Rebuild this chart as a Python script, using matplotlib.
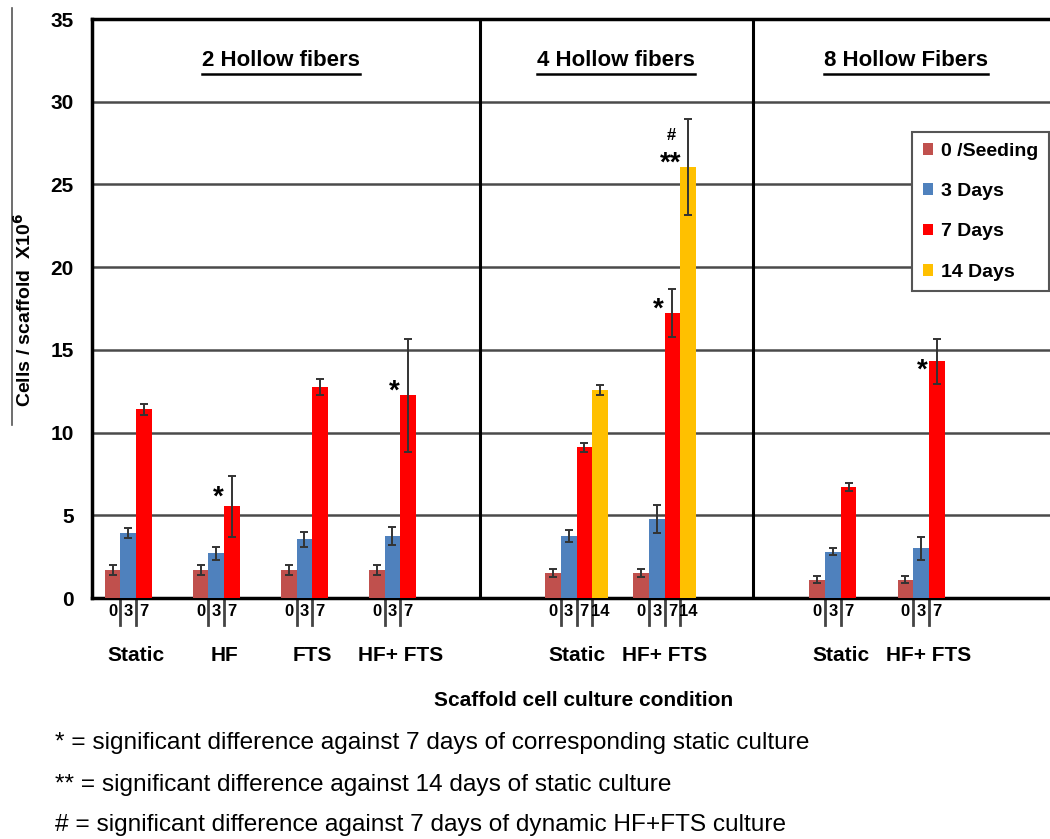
import matplotlib
matplotlib.use("Agg")
import matplotlib.pyplot as plt
from matplotlib import font_manager
from matplotlib.lines import Line2D
from matplotlib.patches import Patch
import numpy as np

# ---- data ----
groups = ["Static", "HF", "FTS", "HF+ FTS", None, "Static", "HF+ FTS", None, "Static", "HF+ FTS"]
panels = ["2 Hollow fibers", "4 Hollow fibers", "8 Hollow Fibers"]
series = ["0 /Seeding", "3 Days", "7 Days", "14 Days"]
day_labels = ["0", "3", "7", "14"]

nan = np.nan
seeding = [1.7, 1.7, 1.7, 1.7, nan, 1.5, 1.5, nan, 1.1, 1.1]
seeding_err = [0.3, 0.3, 0.3, 0.3, nan, 0.25, 0.25, nan, 0.2, 0.2]
day3 = [3.95, 2.7, 3.55, 3.75, nan, 3.75, 4.75, nan, 2.8, 3.0]
day3_err = [0.3, 0.4, 0.45, 0.55, nan, 0.35, 0.85, nan, 0.2, 0.7]
day7 = [11.4, 5.55, 12.75, 12.25, nan, 9.1, 17.25, nan, 6.7, 14.3]
day7_err = [0.35, 1.85, 0.5, 3.4, nan, 0.25, 1.45, nan, 0.25, 1.35]
day14 = [nan, nan, nan, nan, nan, 12.6, 26.05, nan, nan, nan]
day14_err = [nan, nan, nan, nan, nan, 0.3, 2.9, nan, nan, nan]

# significance marks: (group index, label, y of mark centre)
marks = [(1, "*", 6.6), (3, "*", 13.0), (6, "*", 18.0), (9, "*", 14.27),
         (6, "**", 26.8), (6, "#", 28.05)]

footnotes = [
    "* = significant difference against 7 days of corresponding static culture",
    "** = significant difference against 14 days of static culture",
    "# = significant difference against 7 days of dynamic HF+FTS culture",
]

COLORS = ["#c0504d", "#4f81bd", "#ff0000", "#ffc000"]

installed = {f.name for f in font_manager.fontManager.ttflist}
MAIN = ["Liberation Sans", "DejaVu Sans"]
NARROW = ["Liberation Sans Narrow"] if "Liberation Sans Narrow" in installed else []
NARROW = NARROW + MAIN
plt.rcParams["font.family"] = MAIN

W, H = 1050, 839
fig = plt.figure(figsize=(W / 100, H / 100), dpi=100)
ax = fig.add_axes([92 / W, 1 - 598 / H, (1061 - 92) / W, (598 - 19) / H])

values = [seeding, day3, day7, day14]
errors = [seeding_err, day3_err, day7_err, day14_err]
n_slots = len(groups) + 1
bw = 0.178
x = np.arange(len(groups))

for i, (vals, errs) in enumerate(zip(values, errors)):
    vals = np.array(vals, dtype=float)
    errs = np.array(errs, dtype=float)
    ok = ~np.isnan(vals)
    xs = x[ok] - 2 * bw + (i + 0.5) * bw
    ax.bar(xs, vals[ok], width=bw, color=COLORS[i], zorder=3, linewidth=0)
    ax.errorbar(xs, vals[ok], yerr=errs[ok], fmt="none", ecolor="#333333",
                elinewidth=1.4, capsize=3, capthick=1.4, zorder=4)

ax.set_xlim(-0.5, n_slots - 0.5)
ax.set_ylim(0, 35)
ax.set_yticks(np.arange(0, 36, 5))
ax.set_xticks([])
ax.tick_params(axis="y", length=0, pad=13, labelsize=15)
for lab in ax.get_yticklabels():
    lab.set_fontweight("bold")
ax.yaxis.grid(True, color="#4a4a4a", linewidth=1.8, zorder=1)
ax.set_axisbelow(True)
for side in ["left", "top", "bottom"]:
    ax.spines[side].set_linewidth(2.5)
    ax.spines[side].set_color("black")
ax.spines["right"].set_visible(False)

# panel dividers
for xd in [3.9, 7.0]:
    ax.axvline(xd, color="black", linewidth=2.2, zorder=2)

# day labels under each bar, with separators
xt = ax.get_xaxis_transform()
for g, name in enumerate(groups):
    if name is None:
        continue
    present = [i for i in range(4) if not np.isnan(values[i][g])]
    for i in present:
        xc = g - 2 * bw + (i + 0.5) * bw
        ax.text(xc, -0.0225, day_labels[i], transform=xt, ha="center", va="center",
                fontsize=12, fontweight="bold")
        if i > 0:
            ax.plot([g - 2 * bw + i * bw] * 2, [0, -0.047], transform=xt,
                    color="#444444", linewidth=2, clip_on=False)
    ax.text(g, -0.100, name, transform=xt, ha="center", va="center",
            fontsize=15, fontweight="bold")

# significance marks next to the bars
for g, lab, yv in marks:
    if lab == "#":
        fs, dx, k = 12, 0.08, 0.36
    elif lab == "**":
        fs, dx, k = 20, 0.07, 0.58
    else:
        fs, dx, k = 20, -0.07, 0.58
    ax.annotate(lab, xy=(g + dx, yv), xytext=(0, -k * fs), textcoords="offset points",
                ha="center", va="baseline", fontsize=fs, fontweight="bold", zorder=5)

# panel titles, underlined
title_x = [1.65, 5.45, 8.74]
titles = []
for tx, name in zip(title_x, panels):
    titles.append(ax.text(tx, 1 - (61 - 19) / 579, name, transform=xt, ha="center",
                          va="center", fontsize=16, fontweight="bold"))

# legend
handles = [Patch(facecolor=c, edgecolor="none") for c in COLORS]
leg = ax.legend(handles, series, loc="upper left",
                bbox_to_anchor=(912 / W, 1 - 132 / H), bbox_transform=fig.transFigure,
                borderaxespad=0, frameon=True, fancybox=False, framealpha=1,
                edgecolor="#555555", handlelength=0.55, handleheight=0.55,
                handletextpad=0.4, labelspacing=1.2, borderpad=0.55,
                prop={"family": MAIN, "weight": "bold", "size": 14})
leg.get_frame().set_linewidth(1.5)
leg.set_zorder(6)

# axis labels
fig.text(24 / W, 1 - 310 / H, r"Cells / scaffold  X10$^{\mathbf{6}}$", rotation=90,
         ha="center", va="center", fontsize=14, fontweight="bold")
fig.text(584 / W, 1 - 700 / H, "Scaffold cell culture condition", ha="center",
         va="center", fontsize=15, fontweight="bold", family=NARROW)
fig.add_artist(Line2D([11.5 / W, 11.5 / W], [1 - 8 / H, 1 - 425 / H],
                      color="#555555", linewidth=1.2))

for txt, yp in zip(footnotes, [743, 785, 825]):
    fig.text(55 / W, 1 - yp / H, txt, ha="left", va="center", fontsize=17.6, family=NARROW)

# underline the titles
fig.canvas.draw()
r = fig.canvas.get_renderer()
for t in titles:
    bb = t.get_window_extent(renderer=r)
    yline = bb.y0 - 2
    fig.add_artist(Line2D([bb.x0 / W, bb.x1 / W], [yline / H, yline / H],
                          color="black", linewidth=1.8))

fig.savefig("out.png", dpi=100, facecolor="white")
